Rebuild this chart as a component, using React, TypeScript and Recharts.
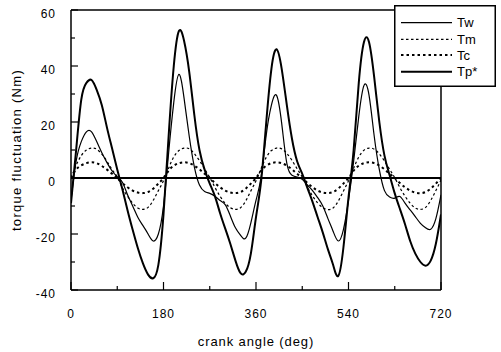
import React from 'react';
import { LineChart, Line, XAxis, YAxis, ReferenceLine } from 'recharts';

const angles = [
  0, 10, 20, 30, 40, 50, 60, 70, 80, 90, 100, 110, 120, 130, 140, 150, 160, 170,
  180, 190, 200, 210, 220, 230, 240, 250, 260, 270, 280, 290, 300, 310, 320, 330, 340, 350,
  360, 370, 380, 390, 400, 410, 420, 430, 440, 450, 460, 470, 480, 490, 500, 510, 520, 530,
  540, 550, 560, 570, 580, 590, 600, 610, 620, 630, 640, 650, 660, 670, 680, 690, 700, 710,
  720,
];

const tw = [
  -8, 6, 13, 16.5, 16.5, 13, 9, 5.5, 2.5, 0.5, -1.5, -6, -10, -14, -17, -20, -22.5, -20,
  -10, 9, 27, 37, 28.5, 15, 4, -2.5, -4.8, -5.5, -6.5, -8, -9.5, -13.5, -17.8, -20.5, -21.5, -16,
  -8, 0.5, 15.5, 26, 29.5, 19.5, 5.2, 1, 0.3, -0.5, -2.5, -4.5, -7, -10, -14.5, -19, -22.5, -18.5,
  -8, 6, 22, 33, 29.5, 15, 3, -4.5, -6.8, -7.2, -6.6, -9, -11.4, -13.8, -16.2, -17.8, -18.3, -14.5,
  -6,
];

const tm = [
  0, 4.5, 8, 10, 10.7, 10.3, 8.5, 6, 3, 0.3, -3.5, -6.5, -9, -10.7, -11.2, -10.5, -8, -4.5,
  -1, 3.5, 7.5, 9.8, 10.7, 10.4, 8.7, 6.2, 3.2, 0.2, -3.3, -6.5, -9, -10.6, -11.2, -10.6, -8.2, -4.6,
  -1, 3.4, 7.4, 9.8, 10.7, 10.4, 8.8, 6.3, 3.3, 0.3, -3.2, -6.4, -8.9, -10.6, -11.3, -10.7, -8.3, -4.7,
  -1, 3.5, 7.5, 9.9, 10.7, 10.3, 8.6, 6.1, 3.1, 0.1, -3.4, -6.5, -9, -10.7, -11.2, -10.5, -8, -4.5,
  -0.7,
];

const tc = [
  0, 3, 4.5, 5.3, 5.6, 5.3, 4.3, 3, 1.5, 0, -1.8, -3.3, -4.5, -5.2, -5.4, -5, -3.8, -2,
  0, 2.6, 4.4, 5.3, 5.6, 5.3, 4.4, 3.1, 1.5, 0, -1.8, -3.3, -4.5, -5.2, -5.4, -5, -3.8, -2,
  0, 2.6, 4.4, 5.3, 5.6, 5.3, 4.4, 3.1, 1.5, 0, -1.8, -3.3, -4.5, -5.2, -5.4, -5, -3.8, -2,
  0, 2.6, 4.4, 5.3, 5.6, 5.3, 4.4, 3.1, 1.5, 0, -1.8, -3.3, -4.5, -5.2, -5.4, -5, -3.8, -2,
  0,
];

const tp = [
  -9, 10, 28, 34, 35, 31.5, 26, 18, 10.5, 3, -4, -11.5, -18.5, -25, -30.5, -34.5, -35.8, -31,
  -13, 15, 40, 52.5, 49, 38, 22.5, 10, 3, -2, -6.5, -12.5, -18, -23.5, -29.5, -34, -33.5, -27,
  -14, -1, 20, 39, 46, 39, 26, 14, 6, 1.5, -3.5, -8.5, -14, -19.5, -25.5, -31, -35, -25,
  -7, 10, 34, 48.5, 48.5, 36, 20, 8, 1, -5.5, -11, -16.5, -22.5, -27, -30, -31.3, -29.5, -23.5,
  -13,
];

const xTicks = [0, 90, 180, 270, 360, 450, 540, 630, 720];
const yTicks = [-40, -30, -20, -10, 0, 10, 20, 30, 40, 50, 60];
const xLabel = 'crank angle (deg)';
const yLabel = 'torque fluctuation (Nm)';

const seriesNames = ['Tw', 'Tm', 'Tc', 'Tp*'];
const seriesKeys = ['tw', 'tm', 'tc', 'tp'];
const seriesStyle: Record<string, { w: number; dash?: string }> = {
  tw: { w: 1.2 },
  tm: { w: 1.2, dash: '2.5 2.5' },
  tc: { w: 2, dash: '2.5 3' },
  tp: { w: 2 },
};

const data = angles.map((a, i) => ({ angle: a, tw: tw[i], tm: tm[i], tc: tc[i], tp: tp[i] }));

const FONT = '"Liberation Sans", Arial, Helvetica, sans-serif';

const XTick = (props: any) => {
  const { x, y, payload } = props;
  const v = payload.value;
  const major = v % 180 === 0;
  return (
    <g>
      <line x1={x} x2={x} y1={y} y2={y - (major ? 8 : 4)} stroke="#000" strokeWidth={1.2} />
      {major && (
        <text x={x} y={y + 28} textAnchor="middle" fontSize={12} letterSpacing={1} fill="#000" fontFamily={FONT}>
          {v}
        </text>
      )}
    </g>
  );
};

const YTick = (props: any) => {
  const { x, y, payload } = props;
  const v = payload.value;
  const major = v % 20 === 0;
  return (
    <g>
      <line x1={x} x2={x + (major ? 7 : 4)} y1={y} y2={y} stroke="#000" strokeWidth={1.2} />
      {major && (
        <text x={x - 15} y={y + 8} textAnchor="end" fontSize={12} letterSpacing={1} fill="#000" fontFamily={FONT}>
          {v}
        </text>
      )}
    </g>
  );
};

const LegendBox = () => {
  const rows = [17.7, 34.3, 50, 66.7];
  return (
    <div style={{ position: 'absolute', left: 394, top: 5, width: 103, height: 83 }}>
      <svg width={103} height={83}>
        <rect x={0.75} y={0.75} width={100.5} height={80.5} fill="#fff" stroke="#000" strokeWidth={1.5} />
        {seriesKeys.map((k, i) => (
          <g key={k}>
            <line
              x1={7}
              x2={58}
              y1={rows[i]}
              y2={rows[i]}
              stroke="#000"
              strokeWidth={seriesStyle[k].w}
              strokeDasharray={seriesStyle[k].dash}
            />
            <text x={63} y={rows[i] + 4.5} fontSize={13} fill="#000" fontFamily={FONT}>
              {seriesNames[i]}
            </text>
          </g>
        ))}
      </svg>
    </div>
  );
};

export default function App() {
  return (
    <div style={{ position: 'absolute', left: 0, top: 0, width: 501, height: 352, background: '#fff', fontFamily: FONT }}>
      <LineChart width={501} height={352} data={data} margin={{ top: 10, right: 60, bottom: 0, left: 0 }}>
        <XAxis
          dataKey="angle"
          type="number"
          domain={[0, 720]}
          ticks={xTicks}
          interval={0}
          height={62}
          tickSize={0}
          tickMargin={0}
          tickLine={false}
          tick={<XTick />}
          axisLine={{ stroke: '#000', strokeWidth: 1.5 }}
          allowDataOverflow
          label={{ value: xLabel, position: 'insideBottom', offset: 6, fontSize: 13, fill: '#000', letterSpacing: 0.9, fontFamily: FONT }}
        />
        <YAxis
          type="number"
          domain={[-40, 60]}
          ticks={yTicks}
          interval={0}
          width={71}
          tickSize={0}
          tickMargin={0}
          tickLine={false}
          tick={<YTick />}
          axisLine={{ stroke: '#000', strokeWidth: 1.5 }}
          allowDataOverflow
          label={{ value: yLabel, angle: -90, position: 'insideLeft', offset: 16, fontSize: 13, fill: '#000', letterSpacing: 1.3, fontFamily: FONT, style: { textAnchor: 'middle' } }}
        />
        <ReferenceLine y={60} stroke="#000" strokeWidth={1.5} />
        <ReferenceLine x={720} stroke="#000" strokeWidth={1.5} />
        <ReferenceLine y={0} stroke="#000" strokeWidth={2} />
        {seriesKeys.map((k) => (
          <Line
            key={k}
            dataKey={k}
            type="natural"
            stroke="#000"
            strokeWidth={seriesStyle[k].w}
            strokeDasharray={seriesStyle[k].dash}
            dot={false}
            activeDot={false}
            isAnimationActive={false}
          />
        ))}
      </LineChart>
      <LegendBox />
    </div>
  );
}
